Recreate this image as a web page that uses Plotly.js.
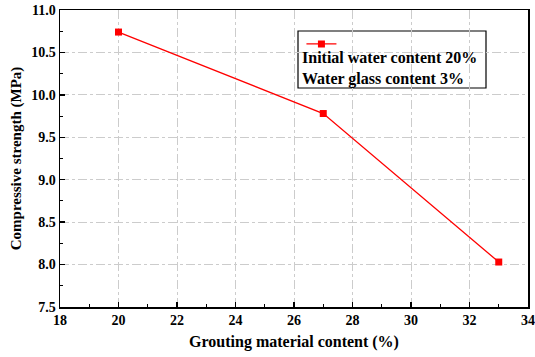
<!DOCTYPE html>
<html>
<head>
<meta charset="utf-8">
<script src="https://cdn.plot.ly/plotly-3.0.1.min.js"></script>
<style>html,body{margin:0;padding:0;background:#fff;}#chart{width:535px;height:357px;}</style>
</head>
<body>
<div id="chart"></div>
<script>
const groutContent = [20, 27, 33];
const strength = [10.74, 9.78, 8.03];
const legendLines = ["Initial water content 20%", "Water glass content 3%"];
const xTickVals = [18, 20, 22, 24, 26, 28, 30, 32, 34];
const xTickText = ["18", "20", "22", "24", "26", "28", "30", "32", "34"];
const yTickVals = [7.5, 8.0, 8.5, 9.0, 9.5, 10.0, 10.5, 11.0];
const yTickText = ["7.5", "8.0", "8.5", "9.0", "9.5", "10.0", "10.5", "11.0"];

const serif = "'Liberation Serif', 'Times New Roman', serif";
const bold = s => '<b>' + s + '</b>';
const trace = {
  x: groutContent, y: strength, type: 'scatter', mode: 'lines+markers',
  name: ' ', showlegend: true,
  line: {color: '#ff0000', width: 1.3},
  marker: {symbol: 'square', size: 7, color: '#ff0000'}
};
function axisCommon() {
  return {
    showline: true, linecolor: '#000', linewidth: 1.5, mirror: true,
    ticks: 'inside', ticklen: 5, tickwidth: 1.5, tickcolor: '#000',
    showgrid: true, gridcolor: '#cccccc', griddash: 'dashdot', gridwidth: 1,
    zeroline: false, tickmode: 'array',
    tickfont: {family: serif, size: 14, color: '#000'}
  };
}
const layout = {
  width: 535, height: 357,
  font: {family: serif, color: '#000'},
  margin: {l: 60, r: 7, t: 10, b: 50},
  paper_bgcolor: '#fff', plot_bgcolor: '#fff',
  xaxis: Object.assign(axisCommon(), {
    range: [18, 34], tickvals: xTickVals, ticktext: xTickText.map(bold),
    minor: {dtick: 1, tick0: 18, ticks: 'inside', ticklen: 3, tickwidth: 1, tickcolor: '#000', showgrid: false},
    title: {text: bold('Grouting material content (%)'), font: {family: serif, size: 16, color: '#000'}, standoff: 8}
  }),
  yaxis: Object.assign(axisCommon(), {
    range: [7.5, 11.0], tickvals: yTickVals, ticktext: yTickText.map(bold),
    minor: {dtick: 0.25, tick0: 7.5, ticks: 'inside', ticklen: 3, tickwidth: 1, tickcolor: '#000', showgrid: false},
    title: {text: bold('Compressive strength (MPa)'), font: {family: serif, size: 15, color: '#000'}, standoff: 6}
  }),
  legend: {
    x: 276/535, xanchor: 'left', y: 1 - 22/357, yanchor: 'top',
    bgcolor: 'rgba(0,0,0,0)', borderwidth: 0,
    font: {family: serif, size: 14, color: '#000'},
    itemwidth: 30, tracegroupgap: 0
  },
  shapes: [{
    type: 'rect', xref: 'paper', yref: 'paper',
    x0: (298-60)/468, x1: (486-60)/468, y0: (307-88)/297, y1: (307-31)/297,
    line: {color: '#000', width: 1.2}, fillcolor: '#fff', layer: 'below'
  }],
  annotations: [{
    xref: 'paper', yref: 'paper', x: (300-60)/468, y: (307-47)/297,
    xanchor: 'left', yanchor: 'top', align: 'left', showarrow: false,
    text: legendLines.map(bold).join('<br>'),
    font: {family: serif, size: 16, color: '#000'}
  }]
};
Plotly.newPlot('chart', [trace], layout, {displayModeBar: false, staticPlot: true});
</script>
</body>
</html>
